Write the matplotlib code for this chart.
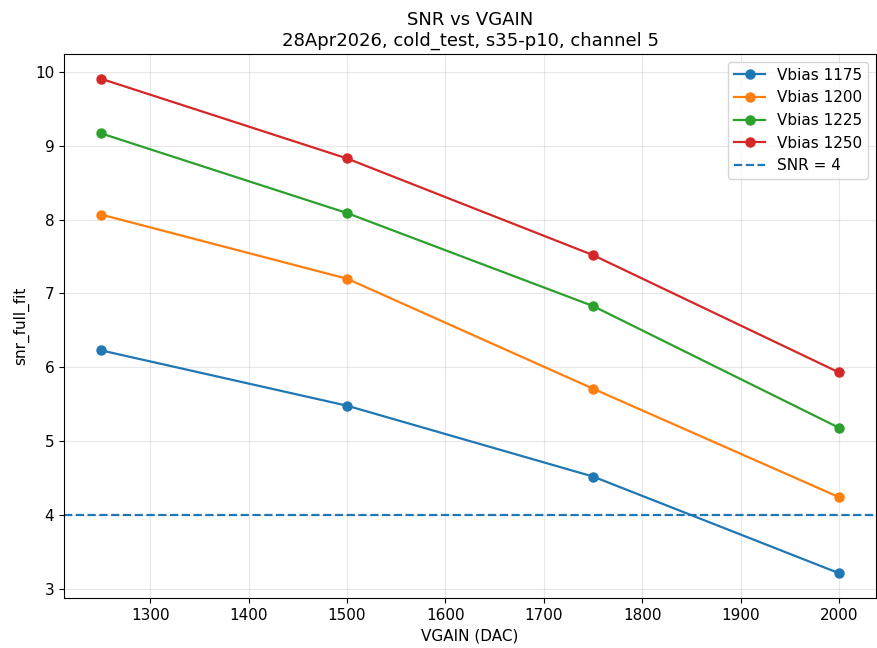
import numpy as np
import matplotlib
matplotlib.use("Agg")
import matplotlib.pyplot as plt

vgain = [1250, 1500, 1750, 2000]
vbias = [1175, 1200, 1225, 1250]
snr = {
    1175: [6.23, 5.48, 4.52, 3.21],
    1200: [8.07, 7.20, 5.71, 4.24],
    1225: [9.17, 8.09, 6.83, 5.18],
    1250: [9.91, 8.83, 7.52, 5.93],
}
snr_threshold = 4

plt.rcParams.update({'font.size': 11})

fig = plt.figure(figsize=(8.77, 6.48), dpi=100)
ax = fig.add_axes([0.073, 0.0772, 0.9259, 0.8395])

for vb in vbias:
    ax.plot(vgain, snr[vb], marker='o', markersize=6.5, linewidth=1.6, label=f'Vbias {vb}')
ax.axhline(snr_threshold, linestyle='--', linewidth=1.6, label=f'SNR = {snr_threshold}')

ax.set_xlabel('VGAIN (DAC)')
ax.set_ylabel('snr_full_fit')
ax.set_title('SNR vs VGAIN\n28Apr2026, cold_test, s35-p10, channel 5', fontsize=13)
ax.grid(True, alpha=0.3)
ax.legend(loc='upper right')

fig.savefig('out.png', dpi=100)
